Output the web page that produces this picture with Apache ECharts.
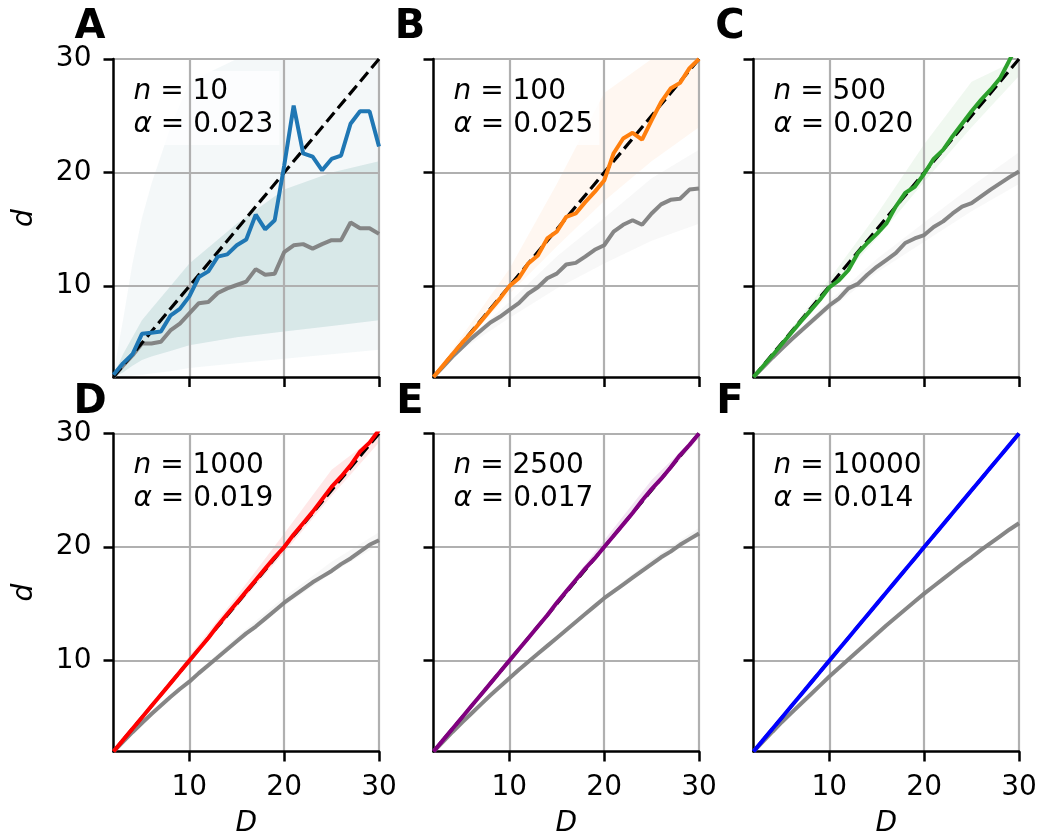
<!DOCTYPE html>
<html><head><meta charset="utf-8">
<script src="https://cdn.jsdelivr.net/npm/echarts@6/dist/echarts.min.js"></script>
<style>html,body{margin:0;padding:0;background:#fff}#c{width:1052px;height:839px}</style>
</head><body><div id="c"></div>
<script>
// ---------- data ----------
const D = [2,3,4,5,6,7,8,9,10,11,12,13,14,15,16,17,18,19,20,21,22,23,24,25,26,27,28,29,30];
const tickValues = [10, 20, 30];
const letters = ['A','B','C','D','E','F'];
const nLabels = ['10','100','500','1000','2500','10000'];
const alphaLabels = ['0.023','0.025','0.020','0.019','0.017','0.014'];
const mainColors = ['#1f77b4','#ff7f0e','#2ca02c','#ff0000','#800080','#0000ff'];

const mainA = [2.2,3.2,4.0,5.8,5.9,6.0,7.4,8.0,9.1,10.8,11.3,12.6,12.8,13.6,14.1,16.3,15.0,15.8,20.6,25.9,21.7,21.4,20.2,21.2,21.5,24.3,25.4,25.4,22.3];
const greyA = [2,3.0,3.9,4.95,4.95,5.1,6.1,6.7,7.6,8.5,8.6,9.4,9.8,10.1,10.4,11.5,11.0,11.1,13.0,13.6,13.7,13.3,13.7,14.05,14.05,15.6,15.1,15.1,14.6];
const mainB = [2,3.0,4.0,5.0,5.9,6.9,7.9,8.9,10.0,10.7,12.0,12.7,14.2,14.8,16.1,16.4,17.4,18.3,19.3,21.7,23.0,23.5,22.9,24.6,26.2,27.4,27.9,29.2,30.0];
const greyB = [2,2.9,3.8,4.6,5.4,6.1,6.8,7.3,7.9,8.5,9.35,9.9,10.7,11.1,11.9,12.05,12.6,13.2,13.6,14.8,15.4,15.8,15.4,16.4,17.2,17.6,17.7,18.5,18.6];
const mainC = [2,2.95,3.9,4.9,5.9,6.9,7.85,8.8,9.9,10.5,11.4,12.9,13.8,14.6,15.5,17.0,18.2,18.75,19.9,21.2,22.0,23.2,24.3,25.4,26.4,27.3,28.3,29.9,31.5];
const greyC = [2,2.85,3.7,4.5,5.3,6.05,6.8,7.55,8.3,8.9,9.8,10.2,11.0,11.7,12.3,12.9,13.8,14.2,14.5,15.2,15.7,16.4,17.0,17.3,17.9,18.5,19.05,19.6,20.1];
const mainD = [2,3,4,5,6,7,8,9,10,11,12,13.1,14.1,15.1,16.1,17.1,18.1,19.1,20.0,21.1,22.1,23.1,24.2,25.3,26.2,27.2,28.4,29.2,30.3];
const greyD = [2,2.85,3.7,4.5,5.3,6.05,6.8,7.5,8.15,8.9,9.6,10.3,11.0,11.7,12.4,13.0,13.7,14.4,15.1,15.7,16.3,16.9,17.4,17.9,18.5,19.0,19.6,20.2,20.6];
const mainE = [2,3,4,5,6,7,8,9,10,11,12,13,14,15.1,16.1,17.1,18.1,19,20,21,22,23,24.1,25.1,26,27,28.1,29,30];
const greyE = [2,2.86,3.72,4.55,5.35,6.15,6.95,7.7,8.45,9.2,9.9,10.6,11.3,12.0,12.7,13.4,14.1,14.8,15.5,16.1,16.7,17.3,17.9,18.5,19.1,19.6,20.2,20.7,21.2];
const mainF = [2,3,4,5,6,7,8,9,10,11,12,13,14,15,16,17,18,19,20,21,22,23,24,25,26,27,28,29,30];
const greyF = [2,2.87,3.74,4.6,5.4,6.2,7.0,7.8,8.6,9.35,10.1,10.85,11.6,12.35,13.1,13.8,14.5,15.2,15.9,16.55,17.2,17.85,18.5,19.1,19.75,20.35,20.95,21.55,22.1];

// spread of the faint sample trajectories
const bandDA = [2,3,4,5,6,8,10,15,20,25,30];
const outerLoA = [2,2,2.1,2.2,2.3,2.5,2.8,3.2,3.6,4,4.4];
const outerHiA = [2.3,7,12,16,19,24,28,30,30,30,30];
const innerLoA = [2,2.4,3,3.5,3.8,4.3,4.8,5.5,6,6.5,7];
const innerHiA = [2.1,4,5.5,7,8,10,12,15.5,18.5,20,21];

const bandD = [2,5,10,15,20,25,30];
const colLoB = [2,4.8,9.3,13.5,17.5,21,24];   const colHiB = [2,5.6,11.5,19,27,30,30];
const greyLoB = [2,4.4,7.2,9.8,12,14,15.5];   const greyHiB = [2,4.9,8.6,12.6,16,19.5,22];
const colLoC = [2,4.85,9.6,14.2,19.2,24,28.5]; const colHiC = [2,5.2,10.6,16.3,22.5,28,30];
const greyLoC = [2,4.45,7.9,11.2,13.9,16.6,19]; const greyHiC = [2,4.75,8.7,12.4,15.6,18.8,21.8];
const colLoD = [2,4.95,9.8,14.7,19.5,24.5,29.2]; const colHiD = [2,5.1,10.4,15.7,21.2,26.8,30];
const greyLoD = [2,4.45,8.0,11.5,14.8,17.7,20.2]; const greyHiD = [2,4.6,8.4,12.1,15.6,18.7,21.3];
const colLoE = [2,4.97,9.9,14.85,19.8,24.8,29.6]; const colHiE = [2,5.05,10.2,15.3,20.6,25.9,30];
const greyLoE = [2,4.5,8.35,11.9,15.3,18.3,21.0]; const greyHiE = [2,4.6,8.6,12.2,15.7,18.9,21.7];
const colLoF = [2,4.98,9.95,14.9,19.9,24.9,29.8]; const colHiF = [2,5.03,10.1,15.15,20.2,25.3,30];
const greyLoF = [2,4.55,8.5,12.2,15.75,19.0,21.9]; const greyHiF = [2,4.65,8.7,12.4,16.0,19.3,22.3];

// ---------- layout ----------
const FONT = 'DejaVu Sans';
const colLeft = [113.5, 433.5, 753.5];
const rowTop = [59, 433.5];
const PW = 265.5, PH = 318;

const mains = [mainA, mainB, mainC, mainD, mainE, mainF];
const greys = [greyA, greyB, greyC, greyD, greyE, greyF];
const bands = [
  [[bandDA, outerLoA, outerHiA, 'rgb(70,135,150)', 0.06], [bandDA, innerLoA, innerHiA, 'rgb(50,135,135)', 0.14]],
  [[bandD, colLoB, colHiB, '#ff7f0e', 0.06], [bandD, greyLoB, greyHiB, '#808080', 0.06]],
  [[bandD, colLoC, colHiC, '#2ca02c', 0.07], [bandD, greyLoC, greyHiC, '#808080', 0.06]],
  [[bandD, colLoD, colHiD, '#ff0000', 0.09], [bandD, greyLoD, greyHiD, '#808080', 0.06]],
  [[bandD, colLoE, colHiE, '#800080', 0.10], [bandD, greyLoE, greyHiE, '#808080', 0.07]],
  [[bandD, colLoF, colHiF, '#0000ff', 0.15], [bandD, greyLoF, greyHiF, '#808080', 0.09]]
];

const grids = [], xAxes = [], yAxes = [], series = [], graphics = [];
for (let i = 0; i < 6; i++) {
  const r = Math.floor(i / 3), c = i % 3;
  grids.push({left: colLeft[c], top: rowTop[r], width: PW, height: PH, containLabel: false});
  const axisCommon = {
    gridIndex: i, type: 'value', min: 2, max: 30, z: 2,
    axisLine: {show: true, onZero: false, lineStyle: {color: '#000', width: 2.5}},
    axisTick: {show: true, inside: false, length: 10, customValues: tickValues, lineStyle: {color: '#000', width: 2.5}},
    splitLine: {show: true, lineStyle: {color: '#b0b0b0', width: 2.2}},
    nameLocation: 'middle',
    nameTextStyle: {fontSize: 28, fontStyle: 'italic', color: '#000', fontFamily: FONT}
  };
  xAxes.push(Object.assign({}, axisCommon, {
    axisLabel: {show: r === 1, customValues: tickValues, fontSize: 28, color: '#000', margin: 22, fontFamily: FONT},
    name: r === 1 ? 'D' : '', nameGap: 58
  }));
  yAxes.push(Object.assign({}, axisCommon, {
    axisLabel: {show: c === 0, customValues: tickValues, fontSize: 28, color: '#000', margin: 22, fontFamily: FONT},
    name: c === 0 ? 'd' : '', nameGap: 75
  }));

  bands[i].forEach(b => {
    const [bx, lo, hi, col, op] = b;
    series.push({
      type: 'custom', xAxisIndex: i, yAxisIndex: i, z: 1, silent: true, animation: false,
      data: [[bx[0], lo[0]]],
      renderItem: function (params, api) {
        const pts = [];
        for (let k = 0; k < bx.length; k++) pts.push(api.coord([bx[k], hi[k]]));
        for (let k = bx.length - 1; k >= 0; k--) pts.push(api.coord([bx[k], lo[k]]));
        return {type: 'polygon', shape: {points: pts}, style: {fill: col, opacity: op}};
      }
    });
  });

  series.push({
    type: 'line', xAxisIndex: i, yAxisIndex: i, z: 3, animation: false, symbol: 'none', clip: true,
    data: D.map((x, k) => [x, greys[i][k]]),
    lineStyle: {color: '#808080', width: 4, opacity: 0.95}
  });
  series.push({
    type: 'line', xAxisIndex: i, yAxisIndex: i, z: 4, animation: false, symbol: 'none', clip: true,
    data: [D[0], D[D.length - 1]].map(x => [x, x]),
    lineStyle: {color: '#000', width: 3.2, type: [12, 5.5]}
  });
  series.push({
    type: 'line', xAxisIndex: i, yAxisIndex: i, z: 5, animation: false, symbol: 'none', clip: true,
    data: D.map((x, k) => [x, mains[i][k]]),
    lineStyle: {color: mainColors[i], width: 4}
  });

  graphics.push({
    type: 'text', x: colLeft[c] - 23.5, y: rowTop[r] - 31, z: 10,
    style: {text: letters[i], fontSize: 40, fontWeight: 'bold', fontFamily: FONT, fill: '#000', align: 'center', verticalAlign: 'middle'}
  });
  graphics.push({
    type: 'text', x: colLeft[c] + 14, y: rowTop[r] + 12, z: 1.5,
    style: {
      text: '{i|n} = ' + nLabels[i] + '\n{i|α} = ' + alphaLabels[i],
      rich: {i: {fontStyle: 'italic', fontSize: 28, fontFamily: FONT, fill: '#000', lineHeight: 33}},
      fontSize: 28, fontFamily: FONT, fill: '#000', lineHeight: 33,
      backgroundColor: 'rgba(255,255,255,0.75)', padding: [4, 6, 4, 6],
      align: 'left', verticalAlign: 'top'
    }
  });
}

const chart = echarts.init(document.getElementById('c'), null, {renderer: 'canvas'});
chart.setOption({
  animation: false,
  backgroundColor: '#fff',
  textStyle: {fontFamily: FONT},
  grid: grids, xAxis: xAxes, yAxis: yAxes, series: series,
  graphic: {elements: graphics}
});
</script></body></html>
